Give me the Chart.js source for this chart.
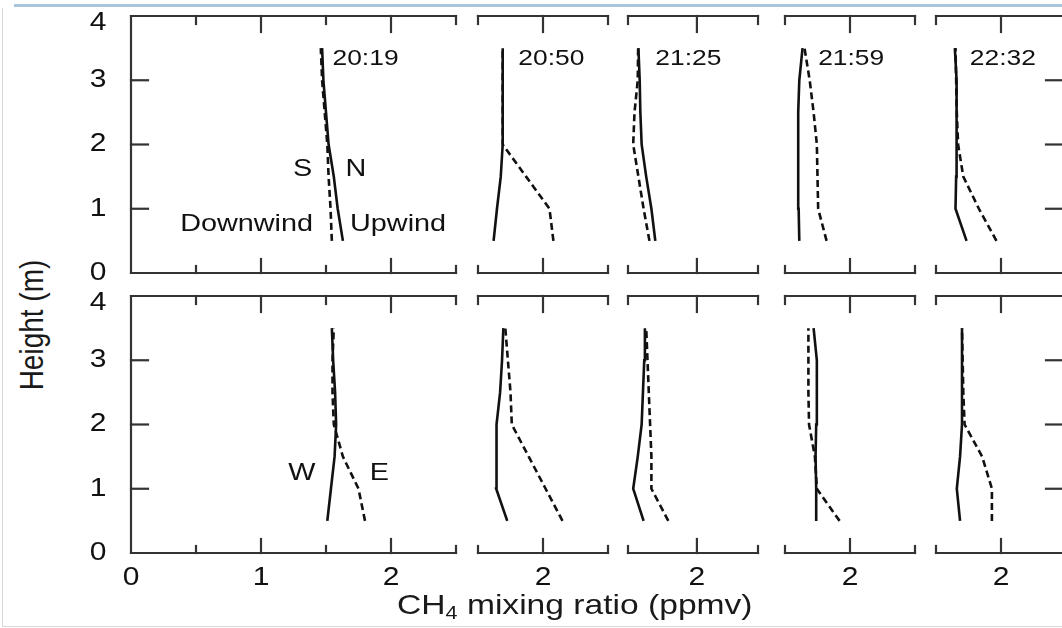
<!DOCTYPE html>
<html>
<head>
<meta charset="utf-8">
<script src="https://cdn.jsdelivr.net/npm/chart.js@4.4.0/dist/chart.umd.min.js"></script>
<style>
  body { margin: 0; background: #fff; width: 1062px; height: 628px; overflow: hidden; position: relative;
         font-family: "Liberation Sans", Arial, sans-serif; color: #1a1a1a; }
  canvas { position: absolute; }
  .edge-top { position: absolute; left: 14px; right: 0; top: 4px; height: 3px; background: #a9c6dc; }
  .edge-left { position: absolute; left: 2px; top: 8px; bottom: 2px; width: 1px; background: #d8d8d8; }
  .edge-bottom { position: absolute; left: 2px; right: 0; bottom: 1px; height: 1px; background: #d8d8d8; }
  .title { position: absolute; font-size: 28px; white-space: nowrap; line-height: 32px; }
  .title sub { font-size: 18px; vertical-align: -5px; line-height: 0; }
  #xTitle { left: 397px; top: 589px; transform-origin: 0 50%; transform: scaleX(1.2); }
  #yTitle { left: 32px; top: 325px; transform-origin: 0 0; transform: rotate(-90deg) scaleY(1.2) translate(-50%, -50%); }
</style>
</head>
<body>
<div class="edge-top"></div>
<div class="edge-left"></div>
<div class="edge-bottom"></div>
<div id="panels"></div>
<div class="title" id="xTitle">CH<sub>4</sub> mixing ratio (ppmv)</div>
<div class="title" id="yTitle">Height (m)</div>

<script>
// --- data ---
const heights = [0.5, 1, 1.5, 2, 2.5, 3, 3.5];
const times = ['20:19', '20:50', '21:25', '21:59', '22:32'];

// top row: N (upwind, solid) and S (downwind, dashed)
const northUpwind = [
    [1.63, 1.59, 1.56, 1.52, 1.50, 1.48, 1.47],
    [1.62, 1.646, 1.675, 1.69, 1.69, 1.69, 1.69],
    [1.68, 1.65, 1.61, 1.575, 1.565, 1.56, 1.55],
    [1.61, 1.605, 1.60, 1.60, 1.605, 1.61, 1.635],
    [1.735, 1.65, 1.655, 1.66, 1.66, 1.655, 1.645]
];
const southDownwind = [
    [1.545, 1.535, 1.52, 1.51, 1.49, 1.47, 1.46],
    [2.08, 2.05, 1.87, 1.69, 1.69, 1.69, 1.69],
    [1.635, 1.59, 1.55, 1.51, 1.52, 1.545, 1.548],
    [1.82, 1.755, 1.75, 1.745, 1.72, 1.69, 1.65],
    [1.965, 1.83, 1.71, 1.67, 1.66, 1.655, 1.65]
];
// bottom row: W (solid) and E (dashed)
const westSide = [
    [1.51, 1.538, 1.566, 1.578, 1.57, 1.555, 1.545],
    [1.725, 1.64, 1.64, 1.645, 1.67, 1.685, 1.695],
    [1.59, 1.51, 1.545, 1.575, 1.585, 1.595, 1.60],
    [1.74, 1.74, 1.735, 1.74, 1.745, 1.745, 1.72],
    [1.685, 1.66, 1.685, 1.70, 1.70, 1.70, 1.70]
];
const eastSide = [
    [1.80, 1.75, 1.63, 1.56, 1.55, 1.55, 1.56],
    [2.15, 2.02, 1.89, 1.76, 1.75, 1.73, 1.71],
    [1.78, 1.65, 1.65, 1.64, 1.63, 1.62, 1.61],
    [1.92, 1.745, 1.73, 1.685, 1.68, 1.68, 1.68],
    [1.93, 1.93, 1.855, 1.72, 1.71, 1.705, 1.70]
];

const xMin = [0, 1.5, 1.47, 1.5, 1.5];
const xMax = [2.5, 2.5, 2.47, 2.5, 2.5];
const yTickLabels = [0, 1, 2, 3, 4];
const firstXTicks = [0.5, 1, 1.5, 2, 2.5];
const firstXLabels = [0, 1, 2];
const otherXLabels = [2];

// --- layout ---
const colLeft = [131, 478, 628, 785, 936];
const colRight = [456, 608, 758, 915, 1066];
const rowTop = [16, 296];
const rowBottom = [273, 553];
const pad = { left: 55, right: 22, top: 14, bottom: 40 };
const STRETCH = 1.2;
const AXIS_COLOR = '#333';
const INK = '#111';
const FONT = '"Liberation Sans", Arial, sans-serif';

// annotation positions in data units
const timeLabelX = [1.55, 1.81, 1.68, 1.755, 1.76];
const notes = [
    [
        { t: 'S', x: 1.32, y: 1.62, align: 'center' },
        { t: 'N', x: 1.73, y: 1.62, align: 'center' },
        { t: 'Downwind', x: 1.40, y: 0.76, align: 'right' },
        { t: 'Upwind', x: 1.685, y: 0.76, align: 'left' }
    ],
    [
        { t: 'W', x: 1.315, y: 1.24, align: 'center' },
        { t: 'E', x: 1.91, y: 1.24, align: 'center' }
    ]
];

function stretchText(ctx, text, x, y, size, align) {
    ctx.save();
    ctx.translate(x, y);
    ctx.scale(STRETCH, 1);
    ctx.font = `${size}px ${FONT}`;
    ctx.fillStyle = INK;
    ctx.textAlign = align;
    ctx.textBaseline = 'middle';
    ctx.fillText(text, 0, 0);
    ctx.restore();
}

const framePlugin = {
    id: 'frame',
    afterDatasetsDraw(chart) {
        const o = chart.options.plugins.frame;
        const { ctx, chartArea: a } = chart;
        const xs = chart.scales.x, ys = chart.scales.y;
        const seg = (x1, y1, x2, y2) => { ctx.beginPath(); ctx.moveTo(x1, y1); ctx.lineTo(x2, y2); ctx.stroke(); };

        ctx.save();
        ctx.strokeStyle = AXIS_COLOR;
        ctx.lineWidth = 2.2;
        ctx.lineCap = 'square';
        seg(a.left, a.top, a.right, a.top);
        seg(a.left, a.bottom, a.right, a.bottom);
        if (o.left) seg(a.left, a.top, a.left, a.bottom);
        if (o.right) seg(a.right, a.top, a.right, a.bottom);

        o.xTicks.forEach(v => {
            const px = xs.getPixelForValue(v);
            const major = Math.abs(v - Math.round(v)) < 1e-6;
            seg(px, a.top, px, a.top + (major ? 16 : 8));
            seg(px, a.bottom, px, a.bottom - (major ? 14 : 7));
        });
        [1, 2, 3].forEach(v => {
            const py = ys.getPixelForValue(v);
            if (o.left) seg(a.left, py, a.left + 17, py);
            if (o.right) seg(a.right, py, a.right - 20, py);
        });
        ctx.restore();

        if (o.left) {
            yTickLabels.forEach(v => {
                let py = ys.getPixelForValue(v);
                if (v === 4) py += 7;
                stretchText(ctx, String(v), a.left - 33, py, 25, 'center');
            });
        }
        if (o.xLabels) {
            o.xLabels.forEach(v => {
                stretchText(ctx, String(v), xs.getPixelForValue(v), a.bottom + 25, 25, 'center');
            });
        }
        if (o.time) {
            stretchText(ctx, o.time.t, xs.getPixelForValue(o.time.x), ys.getPixelForValue(3.33), 22, 'left');
        }
        (o.notes || []).forEach(n => {
            stretchText(ctx, n.t, xs.getPixelForValue(n.x), ys.getPixelForValue(n.y), 24, n.align);
        });
    }
};

function series(values, dashed) {
    return {
        data: values.map((v, i) => ({ x: v, y: heights[i] })),
        showLine: true,
        borderColor: INK,
        borderWidth: 2.6,
        borderDash: dashed ? [7, 4] : [],
        pointRadius: 0,
        tension: 0,
        fill: false
    };
}

const holder = document.getElementById('panels');
[0, 1].forEach(row => {
    for (let c = 0; c < 5; c++) {
        const w = colRight[c] - colLeft[c] + pad.left + pad.right;
        const h = rowBottom[row] - rowTop[row] + pad.top + pad.bottom;
        const cv = document.createElement('canvas');
        cv.width = w; cv.height = h;
        cv.style.left = (colLeft[c] - pad.left) + 'px';
        cv.style.top = (rowTop[row] - pad.top) + 'px';
        cv.style.width = w + 'px'; cv.style.height = h + 'px';
        holder.appendChild(cv);

        const solid = row === 0 ? northUpwind[c] : westSide[c];
        const dashed = row === 0 ? southDownwind[c] : eastSide[c];

        new Chart(cv, {
            type: 'scatter',
            data: { datasets: [series(dashed, true), series(solid, false)] },
            options: {
                responsive: false,
                animation: false,
                events: [],
                layout: { padding: pad },
                scales: {
                    x: { type: 'linear', min: xMin[c], max: xMax[c], display: false },
                    y: { type: 'linear', min: 0, max: 4, display: false }
                },
                plugins: {
                    legend: { display: false },
                    tooltip: { enabled: false },
                    frame: {
                        left: c === 0,
                        right: c === 4,
                        xTicks: c === 0 ? firstXTicks : [xMin[c], 2, xMax[c]],
                        xLabels: row === 1 ? (c === 0 ? firstXLabels : otherXLabels) : null,
                        time: row === 0 ? { t: times[c], x: timeLabelX[c] } : null,
                        notes: c === 0 ? notes[row] : []
                    }
                }
            },
            plugins: [framePlugin]
        });
    }
});
</script>
</body>
</html>
